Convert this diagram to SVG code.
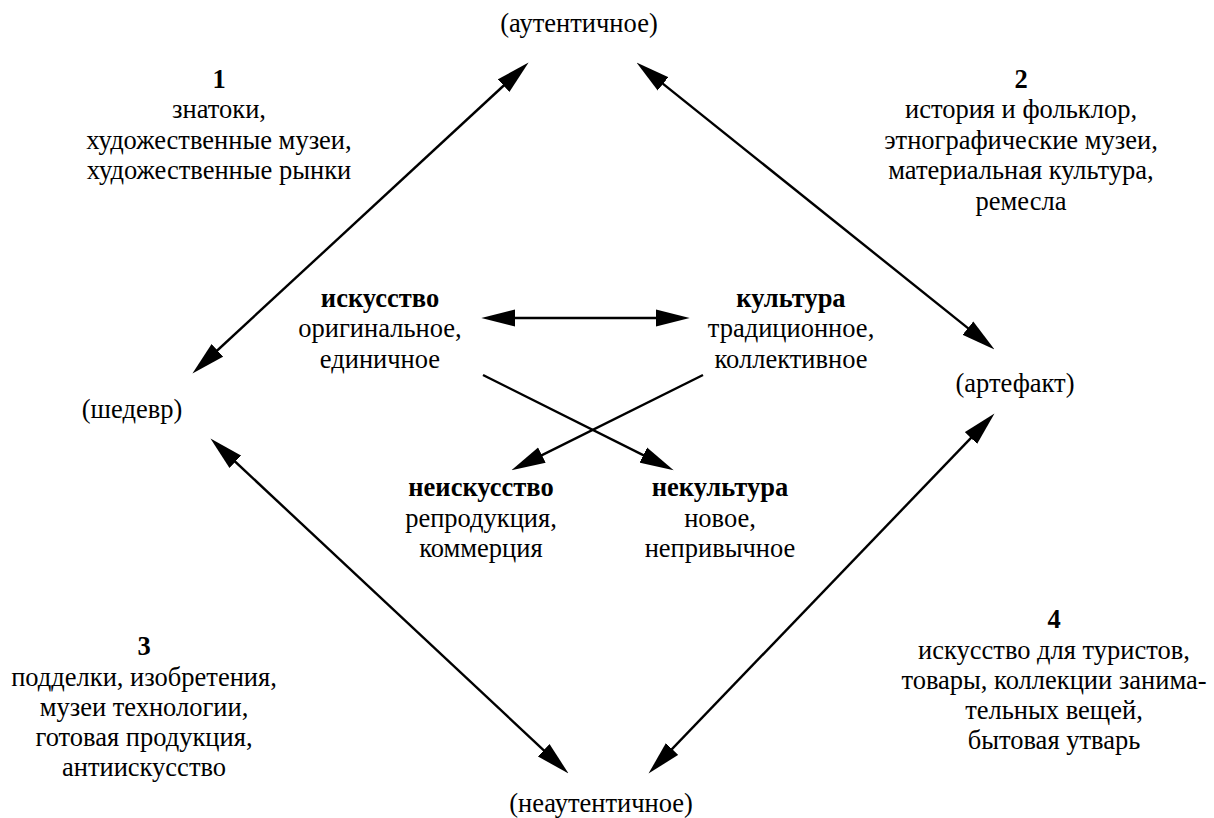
<svg xmlns="http://www.w3.org/2000/svg" width="1214" height="818" viewBox="0 0 1214 818">
<style>
text{font-family:"Liberation Serif","Times New Roman","DejaVu Serif",serif;font-size:26.5px;fill:#000;text-anchor:middle}
.b{font-weight:bold}
.c line{stroke:#000;stroke-width:2.4;fill:none}
</style>
<defs>
<marker id="ah" markerUnits="userSpaceOnUse" markerWidth="34" markerHeight="18" viewBox="0 0 32 16" refX="21" refY="8" orient="auto-start-reverse">
<path d="M0,0 L32,8 L0,16 z" fill="#000"/>
</marker>
</defs>
<rect width="1214" height="818" fill="#fff"/>
<g class="c" id="connectors">
<line x1="201" y1="365.5" x2="520" y2="70.5" marker-start="url(#ah)" marker-end="url(#ah)"/>
<line x1="645.6" y1="69.9" x2="985.4" y2="342.1" marker-start="url(#ah)" marker-end="url(#ah)"/>
<line x1="219" y1="446.5" x2="560" y2="765.5" marker-start="url(#ah)" marker-end="url(#ah)"/>
<line x1="656.6" y1="765.1" x2="986.4" y2="421.9" marker-start="url(#ah)" marker-end="url(#ah)"/>
<line x1="493" y1="318" x2="678" y2="318" marker-start="url(#ah)" marker-end="url(#ah)"/>
<line x1="483" y1="375" x2="663.2" y2="465.1" marker-end="url(#ah)"/>
<line x1="703" y1="375" x2="521.9" y2="465.1" marker-end="url(#ah)"/>
</g>
<g id="authentic"><text x="579" y="32">(аутентичное)</text></g>
<g id="masterpiece"><text x="132" y="418">(шедевр)</text></g>
<g id="artefact"><text x="1015" y="392">(артефакт)</text></g>
<g id="inauthentic"><text x="601" y="812">(неаутентичное)</text></g>
<g id="q1">
<text class="b" x="219" y="88">1</text>
<text x="219" y="118">знатоки,</text>
<text x="219" y="149">художественные музеи,</text>
<text x="219" y="179">художественные рынки</text>
</g>
<g id="q2">
<text class="b" x="1021" y="88">2</text>
<text x="1021" y="118">история и фольклор,</text>
<text x="1021" y="149">этнографические музеи,</text>
<text x="1021" y="179">материальная культура,</text>
<text x="1021" y="210">ремесла</text>
</g>
<g id="q3">
<text class="b" x="144" y="655">3</text>
<text x="144" y="686">подделки, изобретения,</text>
<text x="144" y="716">музеи технологии,</text>
<text x="144" y="746">готовая продукция,</text>
<text x="144" y="776">антиискусство</text>
</g>
<g id="q4">
<text class="b" x="1054" y="628">4</text>
<text x="1054" y="659">искусство для туристов,</text>
<text x="1054" y="689">товары, коллекции занима-</text>
<text x="1054" y="719">тельных вещей,</text>
<text x="1054" y="749">бытовая утварь</text>
</g>
<g id="art">
<text class="b" x="380" y="307">искусство</text>
<text x="380" y="337">оригинальное,</text>
<text x="380" y="368">единичное</text>
</g>
<g id="culture">
<text class="b" x="791" y="307">культура</text>
<text x="791" y="337">традиционное,</text>
<text x="791" y="368">коллективное</text>
</g>
<g id="nonart">
<text class="b" x="481" y="496">неискусство</text>
<text x="481" y="527">репродукция,</text>
<text x="481" y="557">коммерция</text>
</g>
<g id="nonculture">
<text class="b" x="720" y="496">некультура</text>
<text x="720" y="527">новое,</text>
<text x="720" y="557">непривычное</text>
</g>
</svg>
